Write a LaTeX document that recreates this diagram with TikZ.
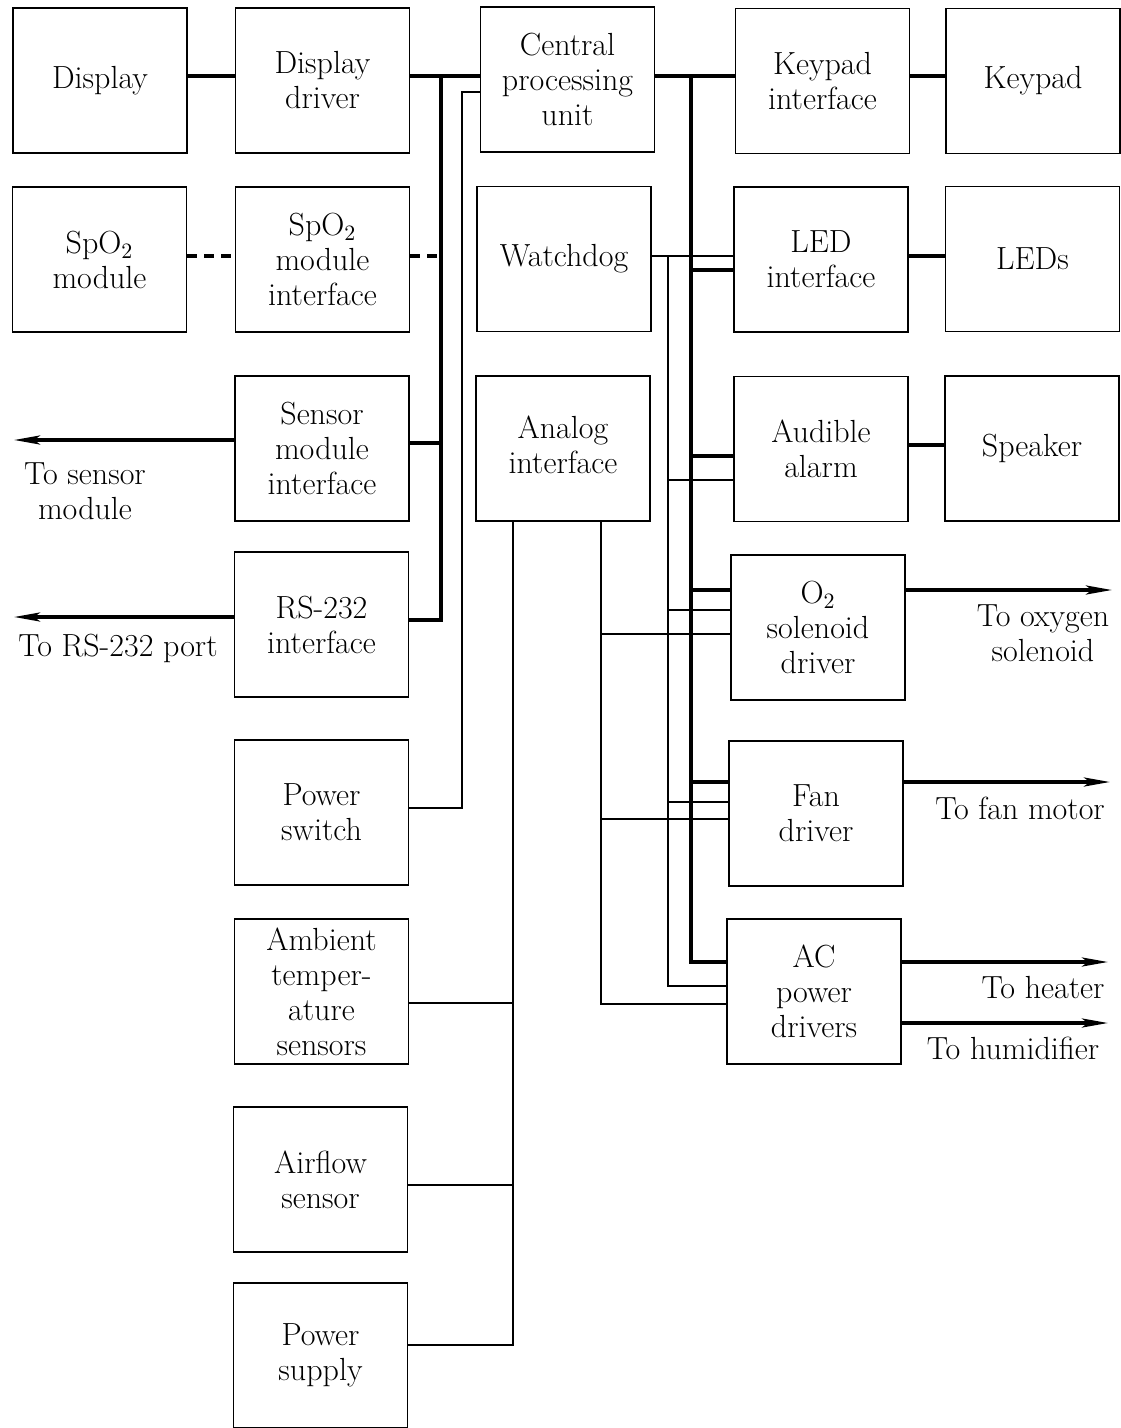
\documentclass[tikz,border=0pt]{standalone}
\usetikzlibrary{arrows.meta}
\begin{document}
\begin{tikzpicture}[x=0.5pt,y=-0.5pt,
  box/.style={draw, line width=0.85pt, minimum width=87pt, minimum height=72.5pt, inner sep=1pt, align=center, font=\fontsize{16}{17.5}\selectfont},
  lbl/.style={align=center, inner sep=0pt, font=\fontsize{16}{17.5}\selectfont},
  bus/.style={line width=1.8pt},
  thin/.style={line width=0.65pt},
  dbus/.style={line width=1.8pt, dash pattern=on 5pt off 3.5pt},
  arr/.style={line width=1.8pt, -{Stealth[length=13pt,width=4.5pt,inset=3pt]}}]
\useasboundingbox (0,0) rectangle (1120,1428);
% boxes
\node[box] (disp)    at (100,80.5)   {Display};
\node[box] (dispdrv) at (322.5,80.5) {Display\\driver};
\node[box] (cpu)     at (567.5,79.5) {Central\\processing\\unit};
\node[box] (kpif)    at (822.5,81)   {Keypad\\interface};
\node[box] (kp)      at (1033,81)    {Keypad};
\node[box] (spo2)    at (99.5,259.5) {SpO$_2$\\module};
\node[box] (spo2if)  at (322.5,259.5){SpO$_2$\\module\\interface};
\node[box] (wd)      at (564,259)    {Watchdog};
\node[box] (ledif)   at (821,259.5)  {LED\\interface};
\node[box] (leds)    at (1032.5,259) {LEDs};
\node[box] (sensif)  at (322,448.5)  {Sensor\\module\\interface};
\node[box] (analog)  at (563,448.5)  {\raisebox{3.5pt}{\shortstack{Analog\\interface}}};
\node[box] (alarm)   at (821,449)    {Audible\\alarm};
\node[box] (spk)     at (1032,448.5) {Speaker};
\node[box] (rs232)   at (321.5,624.5){RS-232\\interface};
\node[box] (o2)      at (818,627.5)  {O$_2$\\solenoid\\driver};
\node[box] (pwrsw)   at (321.5,812.5){Power\\switch};
\node[box] (fan)     at (816,813.5)  {Fan\\driver};
\node[box] (ambient) at (321.5,991.5){Ambient\\temper-\\ature\\sensors};
\node[box] (acpd)    at (814,991.5)  {AC\\power\\drivers};
\node[box] (airflow) at (320.5,1179.5){Airflow\\sensor};
\node[box] (psu)     at (320.5,1355.5){Power\\supply};
% coordinates
\coordinate (LBtop) at (441,76);
\coordinate (LBbot) at (441,620);
\coordinate (RBtop) at (691,76);
\coordinate (RBbot) at (691,962);
\coordinate (ySp) at (441,256);
\coordinate (ySe) at (441,443);
\coordinate (PSa) at (462,808);
\coordinate (PSb) at (462,92);
\coordinate (yLed) at (691,270);
\coordinate (yAl) at (691,456);
\coordinate (yO2) at (691,590);
\coordinate (yFan) at (691,782);
\coordinate (WDa) at (668,256);
\coordinate (WDb) at (668,986);
\coordinate (WD1) at (668,480);
\coordinate (WD2) at (668,610);
\coordinate (WD3) at (668,802);
\coordinate (ANa) at (601,521);
\coordinate (ANb) at (601,1004);
\coordinate (AN1) at (601,634);
\coordinate (AN2) at (601,819);
\coordinate (SNa) at (513,521);
\coordinate (SNb) at (513,1345);
\coordinate (SN1) at (513,1003);
\coordinate (SN2) at (513,1185);
\coordinate (ySpk) at (0,445);
\coordinate (eSens) at (14,440);
\coordinate (eRS) at (14,617);
\coordinate (eO2) at (1112,590);
\coordinate (eFan) at (1110,782);
\coordinate (eHeat) at (1108,962);
\coordinate (eHum) at (1108,1023);
% left bus
\draw[bus] (disp.east |- LBtop) -- (dispdrv.west |- LBtop);
\draw[bus] (dispdrv.east |- LBtop) -- (cpu.west |- LBtop);
\draw[bus] (LBtop) -- (LBbot) -- (rs232.east |- LBbot);
\draw[dbus] (spo2.east |- ySp) -- (spo2if.west |- ySp);
\draw[dbus] (spo2if.east |- ySp) -- (ySp);
\draw[bus] (sensif.east |- ySe) -- (ySe);
\draw[thin] (pwrsw.east |- PSa) -- (PSa) -- (PSb) -- (cpu.west |- PSb);
% right bus
\draw[bus] (cpu.east |- RBtop) -- (kpif.west |- RBtop);
\draw[bus] (kpif.east |- RBtop) -- (kp.west |- RBtop);
\draw[bus] (RBtop) -- (RBbot) -- (acpd.west |- RBbot);
\draw[bus] (yLed) -- (ledif.west |- yLed);
\draw[bus] (ledif.east |- WDa) -- (leds.west |- WDa);
\draw[bus] (yAl) -- (alarm.west |- yAl);
\draw[bus] (alarm.east |- ySpk) -- (spk.west |- ySpk);
\draw[bus] (yO2) -- (o2.west |- yO2);
\draw[bus] (yFan) -- (fan.west |- yFan);
% watchdog
\draw[thin] (wd.east |- WDa) -- (ledif.west |- WDa);
\draw[thin] (WDa) -- (WDb) -- (acpd.west |- WDb);
\draw[thin] (WD1) -- (alarm.west |- WD1);
\draw[thin] (WD2) -- (o2.west |- WD2);
\draw[thin] (WD3) -- (fan.west |- WD3);
% analog
\draw[thin] (ANa) -- (ANb) -- (acpd.west |- ANb);
\draw[thin] (AN1) -- (o2.west |- AN1);
\draw[thin] (AN2) -- (fan.west |- AN2);
\draw[thin] (SNa) -- (SNb) -- (psu.east |- SNb);
\draw[thin] (ambient.east |- SN1) -- (SN1);
\draw[thin] (airflow.east |- SN2) -- (SN2);
% arrows
\draw[arr] (sensif.west |- eSens) -- (eSens);
\draw[arr] (rs232.west |- eRS) -- (eRS);
\draw[arr] (o2.east |- eO2) -- (eO2);
\draw[arr] (fan.east |- eFan) -- (eFan);
\draw[arr] (acpd.east |- eHeat) -- (eHeat);
\draw[arr] (acpd.east |- eHum) -- (eHum);
% labels
\node[lbl] (tsens) at (85,491) {To sensor\\module};
\node[lbl] (trs) at (118,648) {To RS-232 port};
\node[lbl] (tox) at (1043,633) {To oxygen\\solenoid};
\node[lbl] (tfan) at (1020,808) {To fan motor};
\node[lbl] (theat) at (1043,988) {To heater};
\node[lbl] (thum) at (1013,1048) {To humidifier};
\end{tikzpicture}
\end{document}
